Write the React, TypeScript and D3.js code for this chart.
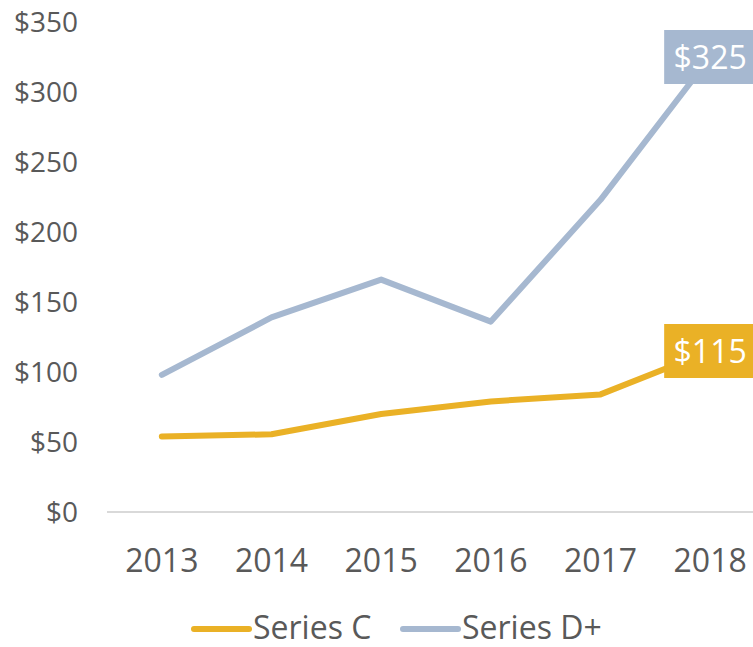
import React from 'react';
import * as d3 from 'd3';

// chart data
const years = ['2013', '2014', '2015', '2016', '2017', '2018'];
const seriesC = [54, 55.5, 70, 79, 84, 115];
const seriesD = [98, 139, 166, 136, 223, 325];
const yTicks = [0, 50, 100, 150, 200, 250, 300, 350];
const seriesNames = ['Series C', 'Series D+'];

const width = 753;
const height = 647;
const colors = ['#EAB126', '#A6B8D0'];
const textColor = '#595959';
const font = "'Open Sans', sans-serif";

const x = d3.scaleBand<string>().domain(years).range([107, 765]);
const y = d3.scaleLinear().domain([0, 350]).range([512, 22]);

const xc = (yr: string) => (x(yr) as number) + x.bandwidth() / 2;

const line = d3
  .line<number>()
  .x((_, i) => xc(years[i]))
  .y(d => y(d));

export default function App() {
  const series = [seriesC, seriesD];
  const legendX = [194, 403];

  return (
    <svg
      width={width}
      height={height}
      style={{ position: 'absolute', left: 0, top: 0, background: '#fff' }}
      fontFamily={font}
    >
      {/* baseline */}
      <line x1={107} x2={width} y1={y(0)} y2={y(0)} stroke="#D9D9D9" strokeWidth={2} />

      {/* y axis labels */}
      {yTicks.map(t => (
        <text key={t} x={78} y={y(t)} dy="0.36em" textAnchor="end" fontSize={28} fill={textColor}>
          {d3.format('$')(t)}
        </text>
      ))}

      {/* x axis labels */}
      {years.map(yr => (
        <text key={yr} x={xc(yr)} y={572} textAnchor="middle" fontSize={32} fill={textColor}>
          {yr}
        </text>
      ))}

      {/* lines */}
      {series.map((s, i) => (
        <path
          key={i}
          d={line(s) || ''}
          fill="none"
          stroke={colors[i]}
          strokeWidth={6}
          strokeLinecap="round"
          strokeLinejoin="round"
        />
      ))}

      {/* end labels */}
      {series.map((s, i) => {
        const last = s[s.length - 1];
        const cx = xc(years[years.length - 1]);
        const cy = y(last);
        return (
          <g key={i}>
            <rect x={cx - 46} y={cy - 27} width={92} height={54} fill={colors[i]} />
            <text x={cx} y={cy} dy="0.36em" textAnchor="middle" fontSize={32} fill="#fff">
              {'$' + last}
            </text>
          </g>
        );
      })}

      {/* legend */}
      {seriesNames.map((name, i) => (
        <g key={name}>
          <line
            x1={legendX[i]}
            x2={legendX[i] + 55}
            y1={629}
            y2={629}
            stroke={colors[i]}
            strokeWidth={6}
            strokeLinecap="round"
          />
          <text x={legendX[i] + 59} y={639} fontSize={32} fill={textColor}>
            {name}
          </text>
        </g>
      ))}
    </svg>
  );
}
